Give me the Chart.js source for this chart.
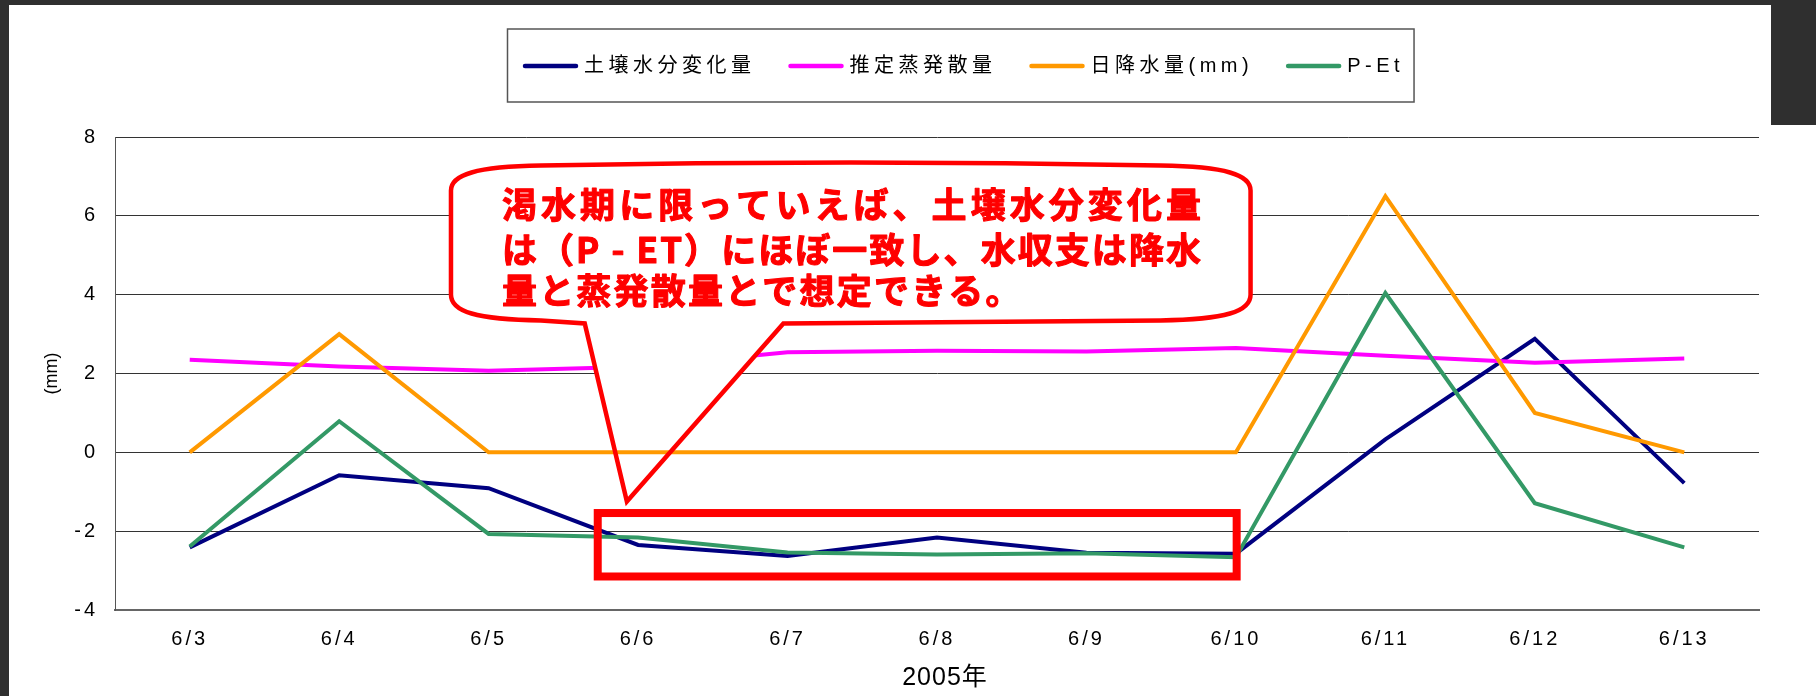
<!DOCTYPE html>
<html>
<head>
<meta charset="utf-8">
<script src="https://cdn.jsdelivr.net/npm/chart.js@4.4.1/dist/chart.umd.min.js"></script>
<style>
html,body{margin:0;padding:0;background:#fff;overflow:hidden}
canvas{display:block}
</style>
</head>
<body>
<canvas id="c" width="1816" height="696"></canvas>
<script>
// ---- data ----
const categories = ['6/3','6/4','6/5','6/6','6/7','6/8','6/9','6/10','6/11','6/12','6/13'];
const soilChange = [-2.41, -0.58, -0.91, -2.35, -2.63, -2.16, -2.55, -2.57, 0.33, 2.88, -0.78];
const evapotranspiration = [2.35, 2.18, 2.07, 2.17, 2.54, 2.58, 2.56, 2.65, 2.45, 2.27, 2.38];
const precipitation = [0, 3, 0, 0, 0, 0, 0, 0, 6.5, 1, 0];
const pMinusEt = [-2.39, 0.79, -2.07, -2.16, -2.54, -2.59, -2.56, -2.66, 4.04, -1.29, -2.41];
const seriesLabels = ['土壌水分変化量', '推定蒸発散量', '日降水量(mm)', 'P-Et'];
const seriesColors = ['#000080', '#FF00FF', '#FF9900', '#339966'];
const yMin = -4, yMax = 8, yStep = 2;
const xTitle = '2005年';
const yTitle = '(mm)';
const noteLines = ['渇水期に限っていえば、土壌水分変化量', 'は（P - ET）にほぼ一致し、水収支は降水', '量と蒸発散量とで想定できる。'];

// annotation anchors (category index / value units)
const calloutBox = {left: 1.748, right: 7.098, top: 7.35, sideTop: 6.64, sideBottom: 4.0, bottom: 3.27};
const calloutTail = {baseLeft: 2.643, baseRight: 3.972, tipX: 2.925, tipY: -1.25};
const highlightBox = {left: 2.73, right: 7.005, top: -1.54, bottom: -3.15};

const TICK_SPACING = '3px';
function setSpacing(ctx, v) { if ('letterSpacing' in ctx) ctx.letterSpacing = v; }

const framePlugin = {
  id: 'frame',
  beforeDraw(chart) {
    const ctx = chart.ctx;
    ctx.save();
    ctx.fillStyle = '#fff';
    ctx.fillRect(0, 0, chart.width, chart.height);
    ctx.fillStyle = '#2f2f2f';
    ctx.fillRect(0, 0, chart.width, 5);
    ctx.fillRect(0, 0, 9, chart.height);
    ctx.fillRect(1771, 0, chart.width - 1771, 125);
    ctx.restore();
    setSpacing(ctx, TICK_SPACING);
  }
};

function bubblePath(chart) {
  const xs = chart.scales.x, ys = chart.scales.y, ctx = chart.ctx;
  const L = xs.getPixelForValue(calloutBox.left), R = xs.getPixelForValue(calloutBox.right);
  const T = ys.getPixelForValue(calloutBox.top), B = ys.getPixelForValue(calloutBox.bottom);
  const sT = ys.getPixelForValue(calloutBox.sideTop), sB = ys.getPixelForValue(calloutBox.sideBottom);
  const tl = xs.getPixelForValue(calloutTail.baseLeft), tr = xs.getPixelForValue(calloutTail.baseRight);
  const tx = xs.getPixelForValue(calloutTail.tipX), ty = ys.getPixelForValue(calloutTail.tipY);
  const mid = (L + R) / 2, cw = 90;
  ctx.beginPath();
  ctx.moveTo(L, sT);
  ctx.bezierCurveTo(L, T + 12, L + 25, T + 4, L + cw, T + 3);
  ctx.quadraticCurveTo(mid, T - 3, R - cw, T + 3);
  ctx.bezierCurveTo(R - 25, T + 4, R, T + 12, R, sT);
  ctx.lineTo(R, sB);
  ctx.bezierCurveTo(R, B - 12, R - 25, B - 4, R - cw, B - 3);
  ctx.lineTo(tr, B);
  ctx.lineTo(tx, ty);
  ctx.lineTo(tl, B);
  ctx.lineTo(L + cw, B - 3);
  ctx.bezierCurveTo(L + 25, B - 4, L, B - 12, L, sB);
  ctx.closePath();
  return {L, R, T, B};
}

const calloutPlugin = {
  id: 'callout',
  beforeDatasetDraw(chart, args) {
    if (args.index !== 2) return;
    const ctx = chart.ctx;
    ctx.save();
    bubblePath(chart);
    ctx.fillStyle = '#fff';
    ctx.fill();
    ctx.restore();
  },
  afterDatasetsDraw(chart) {
    const ctx = chart.ctx, xs = chart.scales.x, ys = chart.scales.y;
    ctx.save();
    const box = bubblePath(chart);
    ctx.strokeStyle = '#FF0000';
    ctx.lineWidth = 4.5;
    ctx.lineJoin = 'miter';
    ctx.stroke();
    // text
    ctx.fillStyle = '#FF0000';
    ctx.font = '700 35px "Noto Sans CJK JP", sans-serif';
    ctx.textBaseline = 'middle';
    ctx.textAlign = 'left';
    ctx.lineWidth = 1.1;
    ctx.lineJoin = 'round';
    const offsets = [42.3, 86.8, 128.3];
    const target = 699;
    noteLines.forEach((line, i) => {
      setSpacing(ctx, '0px');
      const n = Array.from(line).length;
      let ls;
      if (i < 2) {
        const w0 = ctx.measureText(line).width;
        ls = (target - w0) / (n - 1);
      } else {
        ls = 2.2;
      }
      setSpacing(ctx, ls + 'px');
      ctx.fillText(line, box.L + 51, box.T + offsets[i]);
      ctx.strokeText(line, box.L + 51, box.T + offsets[i]);
    });
    setSpacing(ctx, '0px');
    // highlight rectangle
    const x0 = xs.getPixelForValue(highlightBox.left), x1 = xs.getPixelForValue(highlightBox.right);
    const y0 = ys.getPixelForValue(highlightBox.top), y1 = ys.getPixelForValue(highlightBox.bottom);
    ctx.strokeStyle = '#FF0000';
    ctx.lineWidth = 8;
    ctx.lineJoin = 'miter';
    ctx.strokeRect(x0, y0, x1 - x0, y1 - y0);
    ctx.restore();
    setSpacing(ctx, TICK_SPACING);
  }
};

const legendPlugin = {
  id: 'boxLegend',
  afterDraw(chart) {
    const ctx = chart.ctx;
    ctx.save();
    setSpacing(ctx, '4.5px');
    ctx.font = '20px "Liberation Sans", "Noto Sans CJK JP", sans-serif';
    ctx.textBaseline = 'middle';
    ctx.textAlign = 'left';
    const y = 66, sw = 55, gapText = 6, gapItem = 33;
    let x = 523;
    const dsets = chart.data.datasets;
    let end = x;
    dsets.forEach((ds, i) => {
      ctx.strokeStyle = ds.borderColor;
      ctx.lineWidth = 4.5;
      ctx.lineCap = 'round';
      ctx.beginPath();
      ctx.moveTo(x + 2, y);
      ctx.lineTo(x + sw - 2, y);
      ctx.stroke();
      x += sw + gapText;
      ctx.fillStyle = '#000';
      ctx.fillText(ds.label, x, y);
      const w = ctx.measureText(ds.label).width;
      end = x + w;
      x += w + gapItem;
    });
    const right = Math.max(1409, end + 10);
    ctx.strokeStyle = '#555';
    ctx.lineWidth = 1.5;
    ctx.strokeRect(507.5, 29, right - 507.5, 73);
    // axis titles
    setSpacing(ctx, '0px');
    const ca = chart.chartArea;
    ctx.fillStyle = '#000';
    ctx.textAlign = 'center';
    ctx.font = '18px "Liberation Sans", sans-serif';
    ctx.translate(52, (ca.top + ca.bottom) / 2);
    ctx.rotate(-Math.PI / 2);
    ctx.fillText(yTitle, 0, 0);
    ctx.setTransform(1, 0, 0, 1, 0, 0);
    setSpacing(ctx, '1px');
    ctx.font = '25px "Liberation Sans", "Noto Sans CJK JP", sans-serif';
    ctx.fillText(xTitle, (ca.left + ca.right) / 2 + 8, 678);
    ctx.restore();
  }
};

const tickFont = {family: '"Liberation Sans", sans-serif', size: 20};

new Chart(document.getElementById('c'), {
  type: 'line',
  data: {
    labels: categories,
    datasets: [
      {label: seriesLabels[0], data: soilChange, borderColor: seriesColors[0], backgroundColor: seriesColors[0], order: 4},
      {label: seriesLabels[1], data: evapotranspiration, borderColor: seriesColors[1], backgroundColor: seriesColors[1], order: 3},
      {label: seriesLabels[2], data: precipitation, borderColor: seriesColors[2], backgroundColor: seriesColors[2], order: 2},
      {label: seriesLabels[3], data: pMinusEt, borderColor: seriesColors[3], backgroundColor: seriesColors[3], order: 1}
    ]
  },
  options: {
    responsive: false,
    animation: false,
    devicePixelRatio: 1,
    events: [],
    elements: {
      line: {borderWidth: 4, tension: 0, fill: false, borderJoinStyle: 'miter'},
      point: {radius: 0, hoverRadius: 0}
    },
    layout: {padding: {left: 0, right: 57, top: 137, bottom: 0}},
    plugins: {legend: {display: false}, tooltip: {enabled: false}, title: {display: false}},
    scales: {
      x: {
        offset: true,
        grid: {display: false, drawTicks: false},
        border: {display: true, color: '#666', width: 2},
        ticks: {font: tickFont, color: '#000', padding: 17, maxRotation: 0, autoSkip: false},
        afterFit: s => { s.height = 86; }
      },
      y: {
        min: yMin,
        max: yMax,
        ticks: {stepSize: yStep, font: tickFont, color: '#000', padding: 17},
        grid: {color: '#333', lineWidth: 1, drawTicks: false},
        border: {color: '#555', width: 1},
        afterFit: s => { s.width = 115; }
      }
    }
  },
  plugins: [framePlugin, calloutPlugin, legendPlugin]
});
</script>
</body>
</html>
